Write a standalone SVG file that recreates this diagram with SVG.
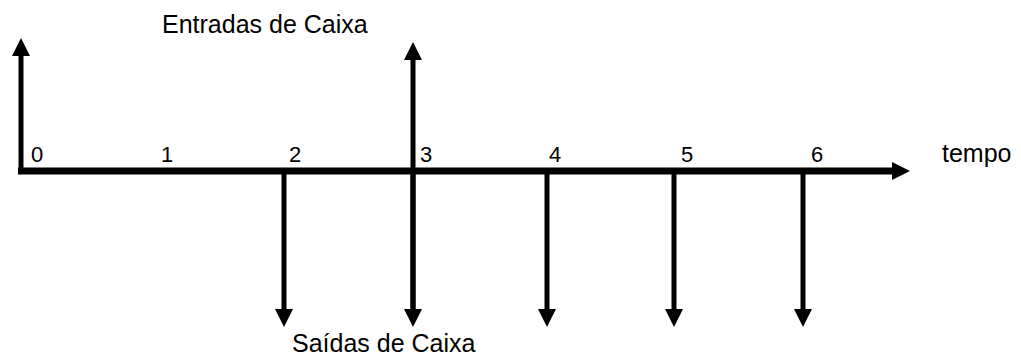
<svg xmlns="http://www.w3.org/2000/svg" width="1021" height="355" viewBox="0 0 1021 355">
<defs>
<style>
text{font-family:"Liberation Sans",Arial,sans-serif;fill:#000}
.lbl{font-size:25px}
.num{font-size:22px}
.ln{stroke:#000;stroke-width:5;fill:none}
.axis{stroke:#000;stroke-width:7;fill:none}
</style>
<marker id="ah" markerUnits="userSpaceOnUse" markerWidth="18" markerHeight="18" viewBox="0 0 18 18" refX="2" refY="9" orient="auto">
<path d="M0,0 L18,9 L0,18 Z" fill="#000"/>
</marker>
</defs>
<g id="connectors">
<line class="axis" x1="18" y1="171" x2="894" y2="171" marker-end="url(#ah)"/>
<line class="ln" x1="21" y1="174" x2="21" y2="54" marker-end="url(#ah)"/>
<line class="ln" x1="413" y1="313" x2="413" y2="58" marker-end="url(#ah)"/>
<line class="ln" x1="413" y1="170" x2="413" y2="311" marker-end="url(#ah)"/>
<line class="ln" x1="284" y1="171" x2="284" y2="311" marker-end="url(#ah)"/>
<line class="ln" x1="547" y1="171" x2="547" y2="311" marker-end="url(#ah)"/>
<line class="ln" x1="674" y1="171" x2="674" y2="311" marker-end="url(#ah)"/>
<line class="ln" x1="803" y1="171" x2="803" y2="311" marker-end="url(#ah)"/>
</g>
<g id="label-entradas"><text class="lbl" x="162" y="33">Entradas de Caixa</text></g>
<g id="label-saidas"><text class="lbl" x="292" y="352">Saídas de Caixa</text></g>
<g id="label-tempo"><text class="lbl" x="942" y="162">tempo</text></g>
<g id="t0"><text class="num" x="31" y="162">0</text></g>
<g id="t1"><text class="num" x="161" y="162">1</text></g>
<g id="t2"><text class="num" x="289" y="162">2</text></g>
<g id="t3"><text class="num" x="420" y="162">3</text></g>
<g id="t4"><text class="num" x="549" y="162">4</text></g>
<g id="t5"><text class="num" x="681" y="162">5</text></g>
<g id="t6"><text class="num" x="811" y="162">6</text></g>
</svg>
